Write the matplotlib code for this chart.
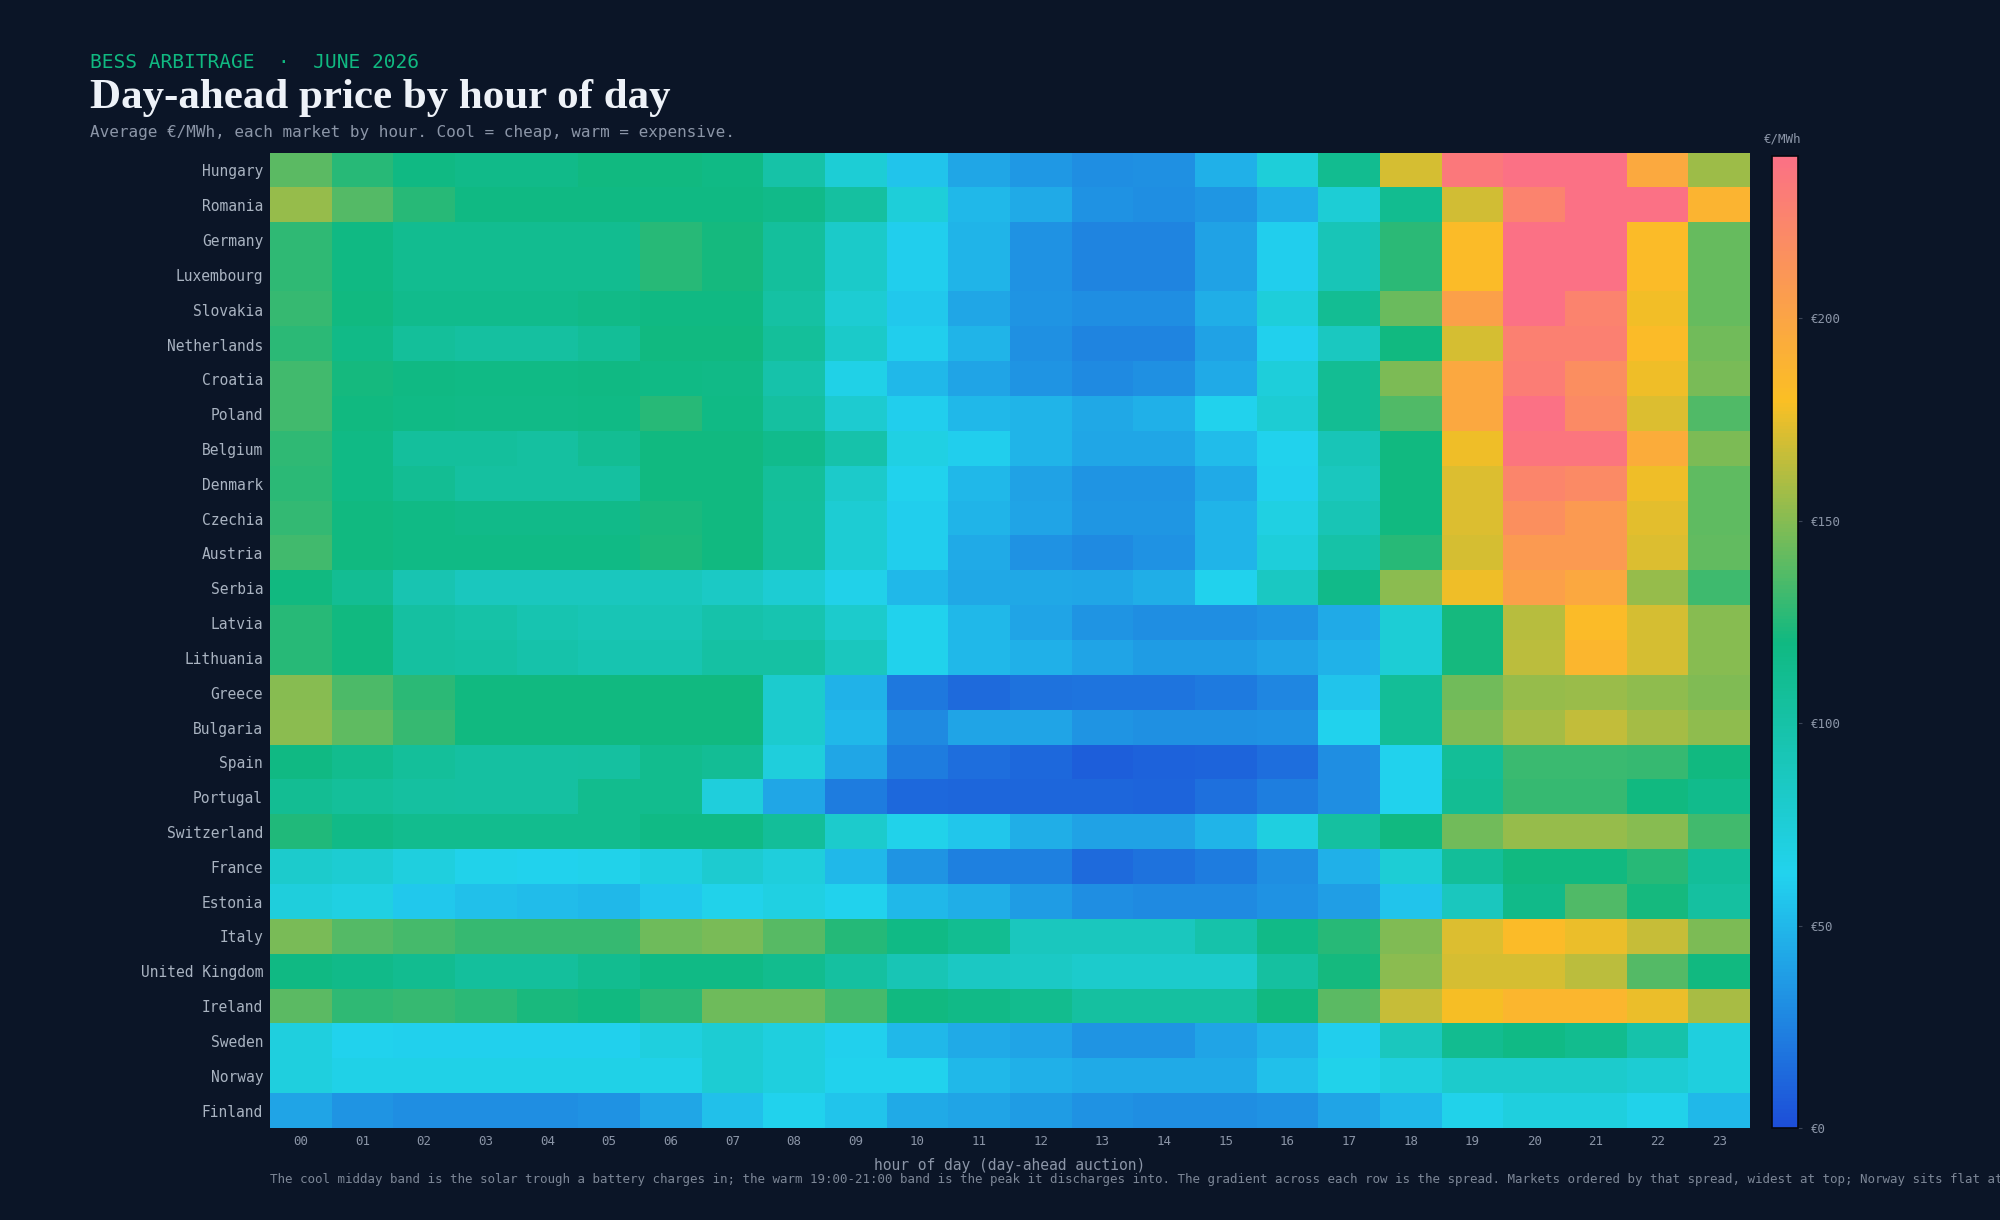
import numpy as np
import matplotlib
matplotlib.use("Agg")
import matplotlib.pyplot as plt
from matplotlib.colors import LinearSegmentedColormap

# average day-ahead price, EUR/MWh, hours 00..23
hungary     = [139,126,119,116,116,120,120,118,100,75,56,42,35,30,31,46,74,112,170,234,240,240,196,156]
romania     = [154,137,126,119,119,119,119,119,116,104,74,50,44,32,30,34,45,75,112,169,225,240,240,188]
germany     = [128,119,112,112,112,112,126,121,105,82,60,48,32,26,26,40,60,91,127,182,240,240,182,142]
luxembourg  = [128,119,112,112,112,112,126,121,105,82,60,48,32,26,26,40,60,91,127,182,240,240,182,142]
slovakia    = [130,120,114,114,114,117,119,119,102,76,58,42,33,30,30,45,73,110,143,203,240,225,178,142]
netherlands = [127,117,106,104,104,108,120,120,106,82,60,48,31,26,26,40,61,87,120,170,227,227,182,145]
croatia     = [133,121,119,118,118,119,118,117,98,66,50,41,33,29,31,44,73,110,148,197,230,217,177,147]
poland      = [133,120,118,117,117,118,126,118,104,78,60,50,48,43,46,62,76,110,136,197,240,220,172,136]
belgium     = [128,118,105,105,104,110,120,120,114,98,68,60,48,42,42,52,62,91,120,177,236,236,194,148]
denmark     = [127,118,110,104,104,104,120,120,106,81,62,50,40,33,33,44,61,88,120,172,224,220,177,140]
czechia     = [129,120,118,116,116,116,122,120,105,76,60,48,41,34,34,48,69,92,120,172,216,208,174,140]
austria     = [133,120,118,118,118,118,123,120,105,76,60,44,32,29,32,48,73,100,126,170,208,208,172,141]
serbia      = [120,110,94,88,88,88,89,84,76,65,50,43,43,42,45,62,86,116,151,177,203,197,154,132]
latvia      = [126,120,103,100,95,92,92,98,95,80,62,50,41,33,30,30,33,44,75,121,163,182,170,150]
lithuania   = [126,120,104,102,98,95,95,102,102,88,63,50,46,41,37,37,41,47,75,121,164,186,170,150]
greece      = [150,135,127,120,120,120,120,120,79,47,20,14,17,18,18,21,27,56,108,145,154,155,152,149]
bulgaria    = [151,140,130,120,120,120,120,120,79,50,29,41,41,33,31,31,32,62,108,149,158,165,158,152]
spain       = [119,113,106,103,103,104,113,109,72,42,22,15,13,8,10,11,15,30,62,108,131,131,130,120]
portugal    = [110,106,104,103,103,113,113,72,42,22,13,12,12,12,11,16,23,30,62,110,130,130,120,114]
switzerland = [124,117,113,113,113,113,118,118,107,80,64,57,45,40,40,48,70,104,120,145,154,154,150,133]
france      = [80,77,71,64,62,64,70,78,72,50,33,24,24,14,17,22,30,46,75,107,120,120,126,107]
estonia     = [72,69,58,54,52,50,58,64,69,62,50,45,37,30,29,29,32,38,56,88,116,136,121,104]
italy       = [147,137,134,130,130,130,144,147,138,125,118,111,88,88,88,98,117,126,149,172,182,176,166,148]
uk          = [119,116,112,105,105,112,118,118,113,104,92,85,84,80,80,80,104,121,151,170,170,164,137,120]
ireland     = [139,128,130,127,122,120,127,144,144,134,120,117,113,104,104,104,120,139,166,179,186,186,176,159]
sweden      = [71,62,61,61,61,61,71,76,71,61,50,44,41,33,33,41,48,60,88,112,118,113,98,71]
norway      = [71,66,66,66,66,66,66,76,71,62,62,50,46,44,44,44,54,64,71,80,80,80,76,71]
finland     = [41,33,30,30,30,32,42,54,62,56,44,41,37,32,30,30,32,41,50,64,71,71,64,50]

markets = ["Hungary", "Romania", "Germany", "Luxembourg", "Slovakia", "Netherlands",
           "Croatia", "Poland", "Belgium", "Denmark", "Czechia", "Austria", "Serbia",
           "Latvia", "Lithuania", "Greece", "Bulgaria", "Spain", "Portugal",
           "Switzerland", "France", "Estonia", "Italy", "United Kingdom", "Ireland",
           "Sweden", "Norway", "Finland"]
rows = [hungary, romania, germany, luxembourg, slovakia, netherlands, croatia, poland,
        belgium, denmark, czechia, austria, serbia, latvia, lithuania, greece, bulgaria,
        spain, portugal, switzerland, france, estonia, italy, uk, ireland, sweden,
        norway, finland]
hours = [f"{h:02d}" for h in range(24)]
cbar_ticks = [0, 50, 100, 150, 200]

BG = "#0b1527"
MUTED = "#8b95a7"
LABEL = "#a9b3c1"
MONO = "DejaVu Sans Mono"

cmap = LinearSegmentedColormap.from_list(
    "bess", [(0.0, "#1d4ed8"), (0.26, "#22d3ee"), (0.5, "#10b981"),
             (0.75, "#fbbf24"), (1.0, "#fb7185")])

data = np.array(rows, dtype=float)

fig = plt.figure(figsize=(20, 12.2), dpi=100, facecolor=BG)
ax = fig.add_axes([0.135, 0.0754, 0.74, 0.7992])
ax.set_facecolor(BG)
im = ax.imshow(data, cmap=cmap, vmin=0, vmax=240, aspect="auto", interpolation="nearest")

ax.set_xticks(range(len(hours)))
ax.set_xticklabels(hours, family=MONO, fontsize=9, color=MUTED)
ax.set_yticks(range(len(markets)))
ax.set_yticklabels(markets, family=MONO, fontsize=10.5, color=LABEL)
ax.tick_params(length=0, pad=5)
for s in ax.spines.values():
    s.set_visible(False)
ax.set_xlabel("hour of day (day-ahead auction)", family=MONO, fontsize=10.5,
              color=MUTED, labelpad=7)

# colorbar
cax = fig.add_axes([0.886, 0.0754, 0.013, 0.7966])
cb = fig.colorbar(im, cax=cax, ticks=cbar_ticks)
cb.ax.set_yticklabels([f"€{t}" for t in cbar_ticks], family=MONO, fontsize=9, color=MUTED)
cb.ax.tick_params(length=3, color="#3a4456", width=0.8, pad=6)
cb.outline.set_edgecolor("#05080f")
cb.outline.set_linewidth(1.2)
fig.text(0.882, 0.886, "€/MWh", family=MONO, fontsize=9, color=MUTED, va="center", ha="left")

# header
fig.text(0.045, 0.9446, "BESS ARBITRAGE  ·  JUNE 2026", family=MONO, fontsize=14,
         color="#10b981", va="baseline")
fig.text(0.045, 0.9115, "Day-ahead price by hour of day", family="Liberation Serif",
         fontweight="bold", fontsize=31, color="#eef2f8", va="baseline")
fig.text(0.045, 0.888, "Average €/MWh, each market by hour. Cool = cheap, warm = expensive.",
         family=MONO, fontsize=11.5, color=MUTED, va="baseline")

# footnote (runs off the right edge like the original)
fig.text(0.135, 0.0328,
         "The cool midday band is the solar trough a battery charges in; the warm 19:00-21:00 "
         "band is the peak it discharges into. The gradient across each row is the spread. "
         "Markets ordered by that spread, widest at top; Norway sits flat at the bottom.",
         family=MONO, fontsize=9, color="#7d8797", va="center", ha="left")

fig.savefig("out.png", dpi=100, facecolor=BG)
